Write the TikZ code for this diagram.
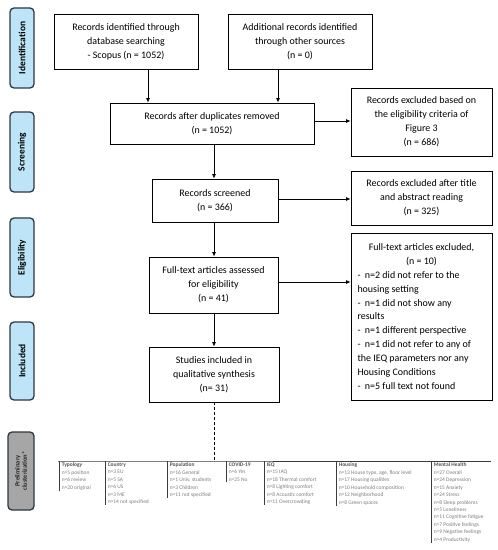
\documentclass[tikz,border=0pt]{standalone}
\usepackage{fontspec}
\setmainfont{Carlito}
\usetikzlibrary{arrows.meta}
\definecolor{sideblue}{RGB}{190,229,247}
\definecolor{sidebd}{RGB}{45,55,65}
\definecolor{sidegray}{RGB}{166,166,166}
\definecolor{tabhead}{RGB}{80,80,80}
\definecolor{tabtext}{RGB}{125,125,125}
\definecolor{tabline}{RGB}{60,60,60}
\begin{document}
\begin{tikzpicture}[x=1bp,y=-1bp,
  box/.style={draw=black, line width=0.8bp, align=center, inner sep=0pt,
    font=\fontsize{10}{13.9}\selectfont},
  side/.style={draw=sidebd, fill=sideblue, rounded corners=4bp, line width=1.3bp,
    rotate=90, inner sep=0pt, align=center, font=\fontsize{9.5}{11}\selectfont\bfseries},
  arr/.style={line width=0.8bp, -{Latex[length=4.5bp,width=4bp]}},
  tcol/.style={anchor=north west, inner xsep=2.6bp, inner ysep=0.6bp, align=left,
    text=tabtext, font=\fontsize{5.5}{7.5}\selectfont},
  tl/.style={draw=tabline, line width=0.9bp},
  th/.style={text=tabhead, font=\bfseries}
]
\useasboundingbox (0,0) rectangle (498,550);
% side labels
\node[side, minimum width=80bp, minimum height=24bp] (sI) at (22,48) {Identification};
\node[side, minimum width=80bp, minimum height=24bp] (sS) at (22,152) {Screening};
\node[side, minimum width=79bp, minimum height=24bp] (sE) at (22,257.5) {Eligibility};
\node[side, minimum width=78bp, minimum height=24bp] (sN) at (22,361) {Included};
\node[side, fill=sidegray, minimum width=78bp, minimum height=26bp,
  font=\fontsize{6.5}{7.5}\selectfont\bfseries, text=black!85] (sP) at (21,471)
  {Preliminary\\clusterization*};
% boxes
\node[box, minimum width=144bp, minimum height=55bp] (b1) at (126,41.5)
  {Records identified through\\database searching\\- Scopus (n = 1052)};
\node[box, minimum width=144bp, minimum height=55bp] (b2) at (300,41.5)
  {Additional records identified\\through other sources\\(n = 0)};
\node[box, minimum width=204bp, minimum height=41bp] (b3) at (212,123.5)
  {Records after duplicates removed\\(n = 1052)};
\node[box, minimum width=141bp, minimum height=68bp] (b4) at (421.5,122)
  {Records excluded based on\\the eligibility criteria of\\Figure 3\\(n = 686)};
\node[box, minimum width=126bp, minimum height=43bp] (b5) at (215,200.5)
  {Records screened\\(n = 366)};
\node[box, minimum width=141bp, minimum height=54bp] (b6) at (421.5,198)
  {Records excluded after title\\and abstract reading\\(n = 325)};
\node[box, minimum width=129bp, minimum height=56bp] (b7) at (213.5,285)
  {Full-text articles assessed\\for eligibility\\(n = 41)};
\node[box, minimum width=141bp, minimum height=167bp] (b8) at (421.5,316.5)
  {\parbox{128bp}{\centering Full-text articles excluded,\\(n = 10)\par\raggedright
  \hangindent=7.5bp\hangafter=1\makebox[7.5bp][l]{-}n=2 did not refer to the\\housing setting\par
  \hangindent=7.5bp\hangafter=1\makebox[7.5bp][l]{-}n=1 did not show any\\results\par
  \hangindent=7.5bp\hangafter=1\makebox[7.5bp][l]{-}n=1 different perspective\par
  \hangindent=7.5bp\hangafter=1\makebox[7.5bp][l]{-}n=1 did not refer to any of\\the IEQ parameters nor any\\Housing Conditions\par
  \hangindent=7.5bp\hangafter=1\makebox[7.5bp][l]{-}n=5 full text not found\par}};
\node[box, minimum width=130bp, minimum height=55bp] (b9) at (214,374.5)
  {Studies included in\\qualitative synthesis\\(n= 31)};
% connectors
\coordinate (c1) at (148,0);
\coordinate (c2) at (278,0);
\coordinate (c3) at (214,0);
\coordinate (r1) at (0,121);
\coordinate (r2) at (0,199);
\coordinate (r3) at (0,282);
\draw[arr] (b1.south -| c1) -- (b3.north -| c1);
\draw[arr] (b2.south -| c2) -- (b3.north -| c2);
\draw[arr] (b3.south -| c3) -- (b5.north -| c3);
\draw[arr] (b5.south -| c3) -- (b7.north -| c3);
\draw[arr] (b7.south -| c3) -- (b9.north -| c3);
\draw[arr] (b3.east |- r1) -- (b4.west |- r1);
\draw[arr] (b5.east |- r2) -- (b6.west |- r2);
\draw[arr] (b7.east |- r3) -- (b8.west |- r3);
% table
\node[tcol] (tA) at (59,462) {\textcolor{tabhead}{\bfseries Typology}\\n=5 position\\n=6 review\\n=20 original};
\node[tcol] (tB) at (105,462) {\textcolor{tabhead}{\bfseries Country}\\n=3 EU\\n=5 SA\\n=6 US\\n=3 ME\\n=14 not specified};
\node[tcol] (tC) at (167,462) {\textcolor{tabhead}{\bfseries Population}\\n=16 General\\n=1 Univ. students\\n=3 Children\\n=11 not specified};
\node[tcol] (tD) at (226,462) {\textcolor{tabhead}{\bfseries COVID-19}\\n=6 Yes\\n=25 No};
\node[tcol] (tE) at (264,462) {\textcolor{tabhead}{\bfseries IEQ}\\n=15 IAQ\\n=18 Thermal comfort\\n=8 Lighting comfort\\n=8 Acoustic comfort\\n=11 Overcrowding};
\node[tcol] (tF) at (336,462) {\textcolor{tabhead}{\bfseries Housing}\\n=13 House type, age, floor level\\n=17 Housing qualities\\n=10 Household composition\\n=12 Neighborhood\\n=8 Green spaces};
\node[tcol] (tG) at (431,462) {\textcolor{tabhead}{\bfseries Mental Health}\\n=27 Overall\\n=24 Depression\\n=15 Anxiety\\n=24 Stress\\n=8 Sleep problems\\n=5 Loneliness\\n=11 Cognitive fatigue\\n=7 Positive feelings\\n=9 Negative feelings\\n=4 Productivity};
\coordinate (tend) at (491,461);
\draw[tl] ([xshift=-1bp,yshift=1bp]tA.north west) -- (tA.north west |- tend) -- (tend);
\foreach \c in {tA,tB,tC,tD,tE,tF,tG}{
  \draw[tl] (\c.north west |- tend) -- (\c.south west);
}
\draw[line width=0.9bp, densely dashed] (b9.south) -- (b9.south |- tend);
\end{tikzpicture}
\end{document}
